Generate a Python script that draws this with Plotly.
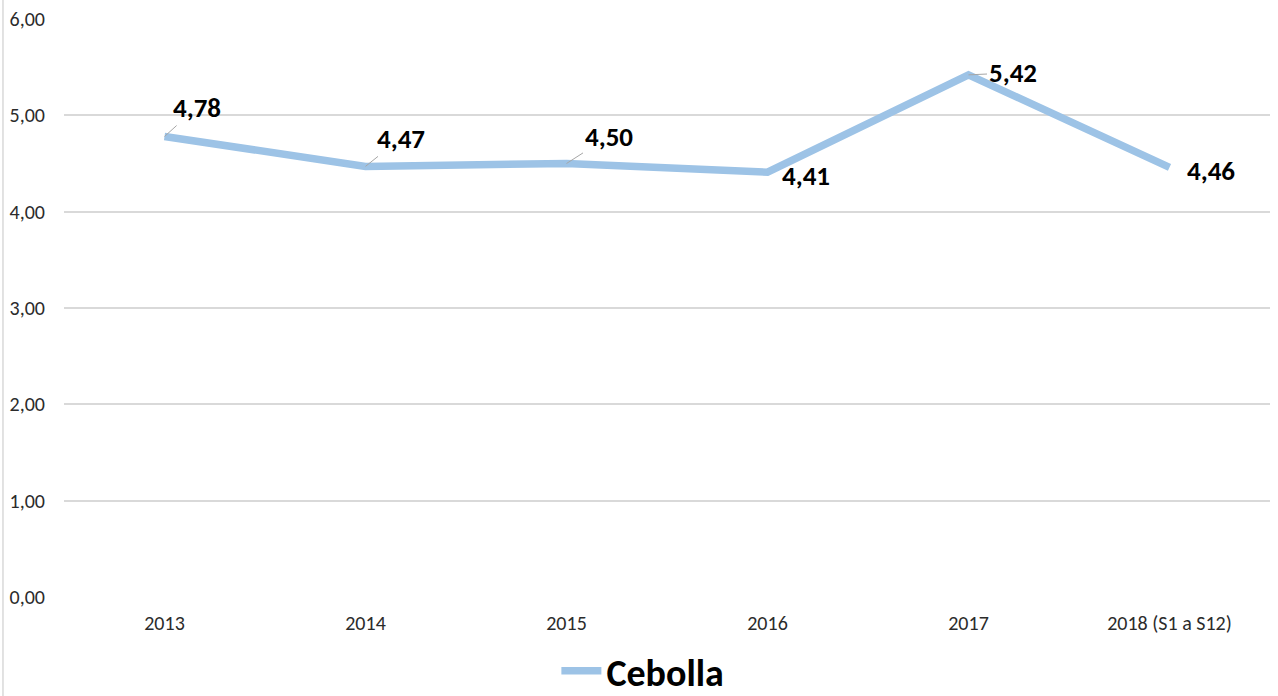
import plotly.graph_objects as go

categories = ["2013", "2014", "2015", "2016", "2017", "2018 (S1 a S12)"]
values = [4.78, 4.47, 4.50, 4.41, 5.42, 4.46]
series_name = "Cebolla"
y_ticks = [0, 1, 2, 3, 4, 5, 6]

# label offsets (px) and whether a leader line is shown
label_dx = [32, 35, 42, 38, 44, 41]
label_dy = [-29, -28, -27, 3, -2, 3]
leader = [True, True, True, False, True, False]

FONT = "Carlito, Calibri, Lato, sans-serif"
LINE_COLOR = "#9dc3e6"

fig = go.Figure()
fig.add_trace(go.Scatter(
    x=categories, y=values, mode="lines", name=series_name,
    line=dict(color=LINE_COLOR, width=7.5),
    showlegend=True, hoverinfo="x+y",
))

for i, (v, dx, dy, ld) in enumerate(zip(values, label_dx, label_dy, leader)):
    fig.add_annotation(
        x=i, y=v, text=f"{v:.2f}".replace(".", ","),
        showarrow=True, ax=dx, ay=dy, arrowhead=0, arrowwidth=1,
        arrowcolor="#a6a6a6" if ld else "rgba(0,0,0,0)",
        font=dict(family=FONT, size=27, color="#000000", weight="bold"),
    )

fig.add_shape(type="line", xref="paper", yref="paper",
              x0=-0.0506, x1=-0.0506, y0=-0.2, y1=1.04,
              line=dict(color="#d9d9d9", width=1.5))

fig.update_layout(
    width=1278, height=696,
    margin=dict(l=64, r=8, t=19, b=99, autoexpand=False),
    paper_bgcolor="white", plot_bgcolor="white",
    separators=",.",
    font=dict(family=FONT, color="#2b2b2b"),
    xaxis=dict(type="category", showgrid=False, showline=False, zeroline=False,
               tickfont=dict(size=20, color="#2b2b2b"), ticks="",
               ticklabelstandoff=12,
               range=[-0.5, len(categories) - 0.5]),
    yaxis=dict(range=[0, 6], tickvals=y_ticks, tickformat=".2f",
               showgrid=True, gridcolor="#d9d9d9", gridwidth=1.5,
               zeroline=False, showline=False,
               tickfont=dict(size=20, color="#2b2b2b"),
               ticklabelstandoff=18),
    legend=dict(orientation="h", x=0.48, xanchor="center", y=-0.128, yanchor="middle",
                font=dict(family=FONT, size=38, color="#000000", weight="bold"),
                itemwidth=40),
    hovermode="closest",
)

fig.write_html(
    "out.html",
    config={"displayModeBar": False},
    post_script="document.body.style.margin='0';document.body.style.overflow='hidden';",
)
